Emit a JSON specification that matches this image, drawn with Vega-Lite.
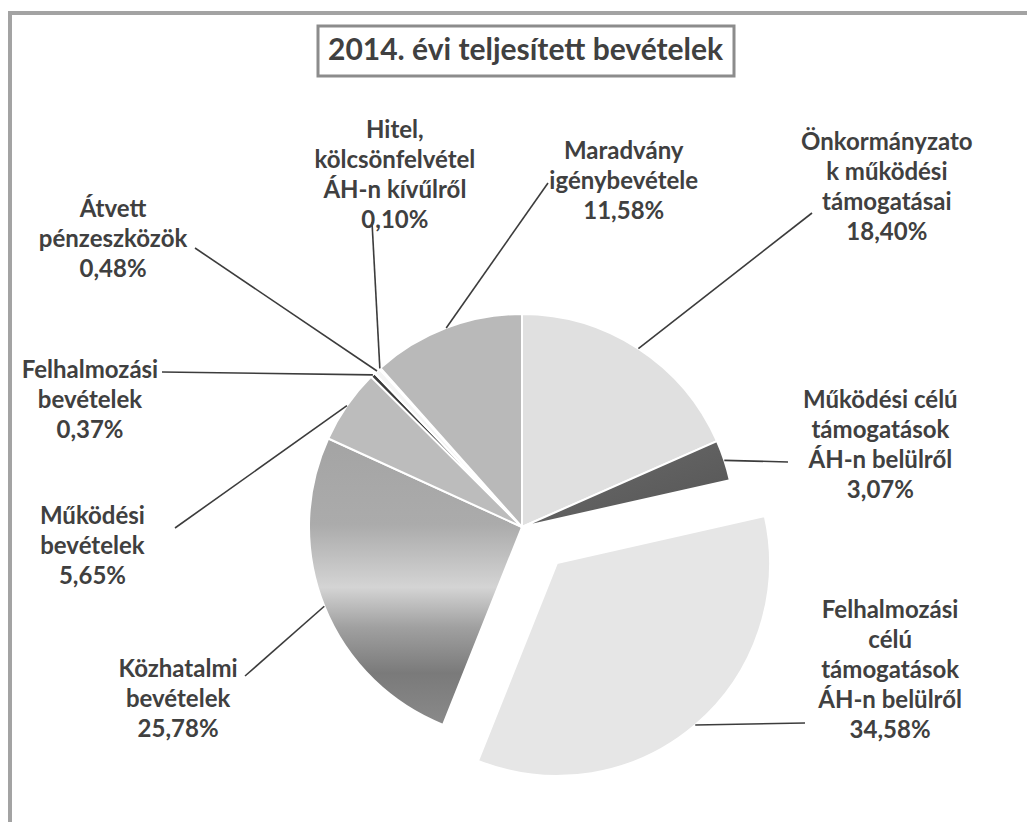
{
  "$schema": "https://vega.github.io/schema/vega-lite/v6.json",
  "background": "white",
  "autosize": {"type": "none"},
  "padding": {"left": 10, "top": 13, "right": 0, "bottom": 0},
  "width": 1024,
  "height": 1028,
  "view": {"stroke": "#a3a3a3", "strokeWidth": 4},
  "config": {
    "locale": {"number": {"decimal": ",", "thousands": " ", "grouping": [3], "currency": ["", " Ft"]}},
    "text": {"font": "Lato"},
    "legend": {"strokeWidth": 3}
  },
  "data": {"values": [
    {"n": 1, "nev": "Önkormányzato\nk működési\ntámogatásai", "v": 0.1840},
    {"n": 2, "nev": "Működési célú\ntámogatások\nÁH-n belülről", "v": 0.0307},
    {"n": 3, "nev": "Felhalmozási\ncélú\ntámogatások\nÁH-n belülről", "v": 0.3458},
    {"n": 4, "nev": "Közhatalmi\nbevételek", "v": 0.2578},
    {"n": 5, "nev": "Működési\nbevételek", "v": 0.0565},
    {"n": 6, "nev": "Felhalmozási\nbevételek", "v": 0.0037},
    {"n": 7, "nev": "Átvett\npénzeszközök", "v": 0.0048},
    {"n": 8, "nev": "Hitel,\nkölcsönfelvétel\nÁH-n kívűlről", "v": 0.0010},
    {"n": 9, "nev": "Maradvány\nigénybevétele", "v": 0.1158}
  ]},
  "layer": [
    {
      "mark": {"type": "arc", "radius": 213, "stroke": "white", "strokeWidth": 2,
               "xOffset": {"expr": "datum.n == 3 ? 35 : 0"},
               "yOffset": {"expr": "datum.n == 3 ? 36 : 0"}},
      "encoding": {
        "theta": {"field": "v", "type": "quantitative", "stack": true},
        "order": {"field": "n", "type": "quantitative"},
        "color": {
          "field": "n", "type": "nominal",
          "legend": {"title": "2014. évi teljesített bevételek", "values": [], "orient": "none",
                     "legendX": 308, "legendY": 13, "padding": 10, "strokeColor": "#8c8c8c",
                     "titleFont": "Lato", "titleFontSize": 30, "titleFontWeight": "bold", "titleColor": "#404040",
                     "titleLimit": 0, "titlePadding": 0},
          "scale": {"domain": [1, 2, 3, 4, 5, 6, 7, 8, 9],
                    "range": ["#e0e0e0", "#5e5e5e", "#e6e6e6", "#a8a8a8", "#bcbcbc", "#3a3a3a", "#f4f4f4", "#d0d0d0", "#b9b9b9"]},
          "condition": [
            {"test": "datum.n == 4", "value": {"gradient": "linear", "x1": 0, "y1": 0, "x2": 0, "y2": 1,
              "stops": [{"offset": 0, "color": "#a4a4a4"}, {"offset": 0.3, "color": "#ababab"}, {"offset": 0.52, "color": "#d4d4d4"}, {"offset": 0.66, "color": "#a0a0a0"}, {"offset": 0.82, "color": "#7a7a7a"}, {"offset": 1, "color": "#8a8a8a"}]}},
            {"test": "datum.n == 2", "value": {"gradient": "linear", "x1": 0, "y1": 0, "x2": 1, "y2": 1,
              "stops": [{"offset": 0, "color": "#6c6c6c"}, {"offset": 1, "color": "#545454"}]}}
          ]
        }
      }
    },
    {
      "transform": [{"stack": "v", "groupby": [], "sort": [{"field": "n", "order": "ascending"}], "offset": "normalize", "as": ["s0", "s1"]}],
      "mark": {"type": "rule", "color": "#3c3c3c", "strokeWidth": 1.6},
      "encoding": {
        "x": {"value": {"expr": "width/2 + 213*sin(PI*(datum.s0+datum.s1)) + (datum.n == 3 ? 35 : 0)"}},
        "y": {"value": {"expr": "height/2 - 213*cos(PI*(datum.s0+datum.s1)) + (datum.n == 3 ? 36 : 0)"}},
        "x2": {"value": {"expr": "width/2 + [290,266,283,-277,-347,-360,-327,-150,26][datum.n-1]"}},
        "y2": {"value": {"expr": "height/2 + [-314,-65,196,149,1,-155,-279,-305,-344][datum.n-1]"}}
      }
    },
    {
      "mark": {"type": "text", "font": "Lato", "fontSize": 24, "fontWeight": "bold", "fill": "#404040",
               "align": "center", "baseline": "line-top", "lineHeight": 30, "lineBreak": "\n",
               "dy": {"expr": "-30*length(split(datum.nev, '\\n'))"},
               "radius": {"expr": "[478,362,414,392,431,446,491,345,345][datum.n-1]"},
               "thetaOffset": {"expr": "[0.2903,0.1766,-0.389,-0.1194,-0.6878,-0.5442,-0.2354,0.3533,0.6631][datum.n-1]"}},
      "encoding": {
        "theta": {"field": "v", "type": "quantitative", "stack": true},
        "order": {"field": "n", "type": "quantitative"},
        "text": {"field": "nev", "type": "nominal"}
      }
    },
    {
      "mark": {"type": "text", "font": "Lato", "fontSize": 24, "fontWeight": "bold", "fill": "#404040",
               "align": "center", "baseline": "line-top", "lineHeight": 30,
               "radius": {"expr": "[478,362,414,392,431,446,491,345,345][datum.n-1]"},
               "thetaOffset": {"expr": "[0.2903,0.1766,-0.389,-0.1194,-0.6878,-0.5442,-0.2354,0.3533,0.6631][datum.n-1]"}},
      "encoding": {
        "theta": {"field": "v", "type": "quantitative", "stack": true},
        "order": {"field": "n", "type": "quantitative"},
        "text": {"field": "v", "type": "quantitative", "format": ".2%"}
      }
    }
  ]
}
